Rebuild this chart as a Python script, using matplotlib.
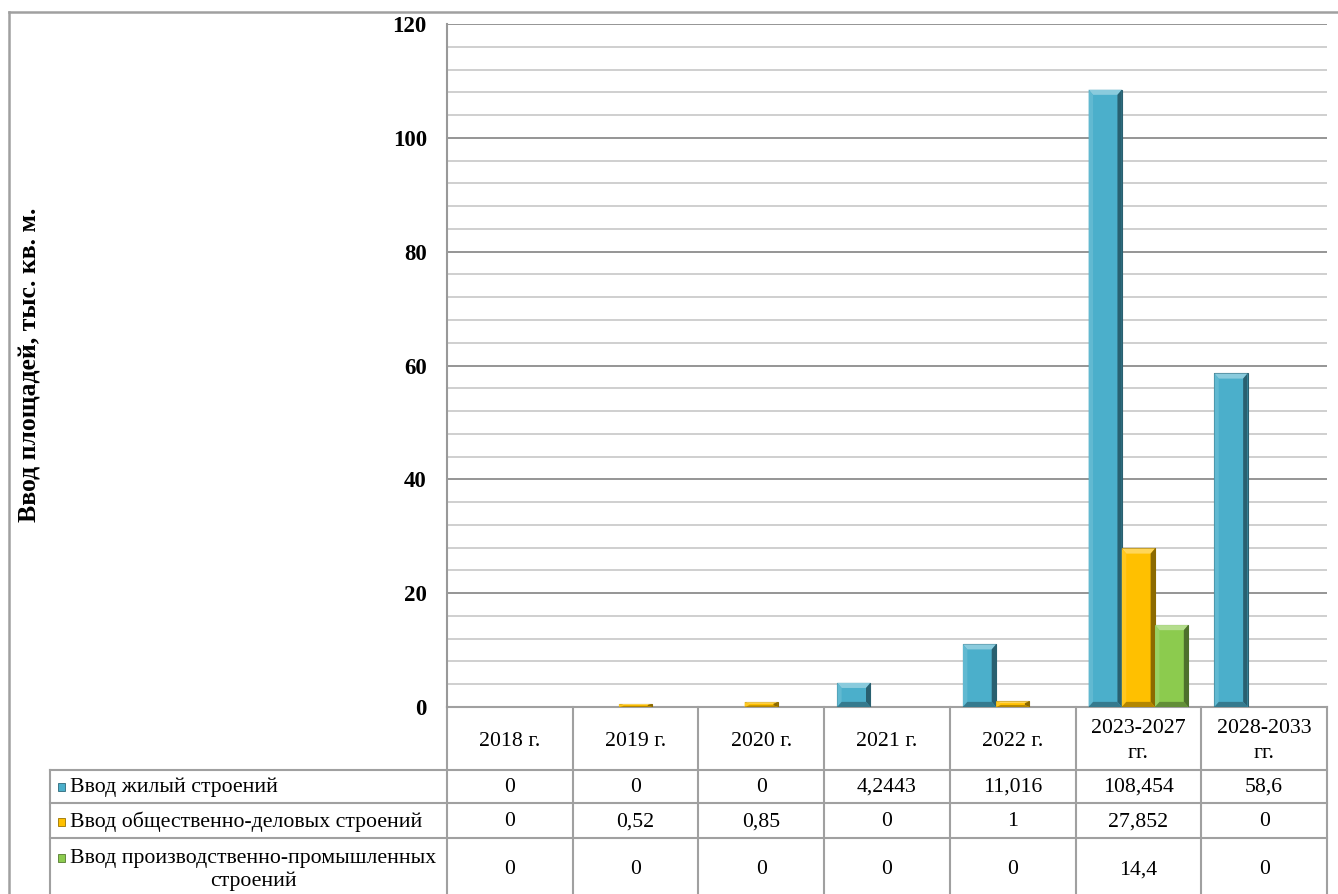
import numpy as np
import matplotlib
matplotlib.use('Agg')
import matplotlib.pyplot as plt
from matplotlib.patches import Polygon, Rectangle
from matplotlib.lines import Line2D
import matplotlib.colors as mcolors

plt.rcParams['font.family'] = ['Liberation Serif', 'DejaVu Serif']

# данные
categories = ['2018 г.', '2019 г.', '2020 г.', '2021 г.', '2022 г.', '2023-2027\nгг.', '2028-2033\nгг.']
series_names = ['Ввод жилый строений',
                'Ввод общественно-деловых строений',
                'Ввод производственно-промышленных\nстроений']
living = [0, 0, 0, 4.2443, 11.016, 108.454, 58.6]
business = [0, 0.52, 0.85, 0, 1, 27.852, 0]
industrial = [0, 0, 0, 0, 0, 14.4, 0]
table_text = [['0', '0', '0', '4,2443', '11,016', '108,454', '58,6'],
              ['0', '0,52', '0,85', '0', '1', '27,852', '0'],
              ['0', '0', '0', '0', '0', '14,4', '0']]
colors = ['#4BAFCB', '#FFC000', '#8CCB4E']

W, H = 1338, 894
fig = plt.figure(figsize=(W / 100, H / 100), dpi=100)
ax = fig.add_axes([447 / W, 1 - 707 / H, 880 / W, 683 / H])

n = len(categories)
x = np.arange(n)
bw = 0.264
fs = 15.7


def shade(c, f):
    r, g, b = mcolors.to_rgb(c)
    if f < 1:
        return (r * f, g * f, b * f)
    f = f - 1
    return (r + (1 - r) * f, g + (1 - g) * f, b + (1 - b) * f)


# псевдо-объёмный столбик (фаска как в Excel)
def bevel_bar(ax, xc, h, w, color):
    if h <= 0:
        return
    x0, x1 = xc - w / 2, xc + w / 2
    ax.add_patch(Rectangle((x0, 0), w, h, facecolor=color, edgecolor=shade(color, 0.55), lw=0.8, zorder=3))
    bx = min(0.035, w / 4)
    by = min(0.9, h / 3)
    top = [(x0, h), (x1, h), (x1 - bx, h - by), (x0 + bx, h - by)]
    bot = [(x0, 0), (x1, 0), (x1 - bx, by), (x0 + bx, by)]
    left = [(x0, 0), (x0, h), (x0 + bx, h - by), (x0 + bx, by)]
    right = [(x1, 0), (x1, h), (x1 - bx, h - by), (x1 - bx, by)]
    ax.add_patch(Polygon(top, facecolor=shade(color, 1.35), lw=0, zorder=4))
    ax.add_patch(Polygon(left, facecolor=shade(color, 1.12), lw=0, zorder=4))
    ax.add_patch(Polygon(right, facecolor=shade(color, 0.55), lw=0, zorder=4))
    ax.add_patch(Polygon(bot, facecolor=shade(color, 0.7), lw=0, zorder=4))


for i, vals in enumerate([living, business, industrial]):
    for j, v in enumerate(vals):
        bevel_bar(ax, x[j] + (i - 1) * bw, v, bw, colors[i])

ax.set_xlim(-0.5, n - 0.5)
ax.set_ylim(0, 120)
ax.set_yticks(np.arange(0, 121, 20))
ax.set_yticks(np.arange(0, 121, 4), minor=True)
ax.grid(which='major', axis='y', color='#8c8c8c', lw=1.3, zorder=0)
ax.grid(which='minor', axis='y', color='#cccccc', lw=1.3, zorder=0)
ax.set_xticks([])
ax.tick_params(axis='y', which='both', length=0, pad=14.5, labelsize=16.5)
for lab in ax.get_yticklabels():
    lab.set_fontweight('bold')
for s in ['top', 'right', 'bottom']:
    ax.spines[s].set_visible(False)
ax.spines['left'].set_color('#999999')
ax.spines['left'].set_linewidth(1.5)

ax.set_ylabel('Ввод площадей, тыс. кв. м.', fontsize=18.5, fontweight='bold', labelpad=0)
ax.yaxis.set_label_coords((42 - 447) / 880, (707 - 365) / 683)

# таблица данных под графиком
px_per_cat = 880 / n
tr = ax.get_xaxis_transform()


def ya(py):
    return (707 - py) / 683


def xd(px):
    return (px - 447) / px_per_cat - 0.5


lc = '#a0a0a0'
row_y = [707, 770, 803, 838, 894]
ax.add_line(Line2D([-0.5, n - 0.5], [0, 0], transform=tr, color=lc, lw=1.5, clip_on=False))
for k in range(n + 1):
    ax.add_line(Line2D([k - 0.5, k - 0.5], [0, ya(894)], transform=tr, color=lc, lw=1.5, clip_on=False))
for py in row_y[1:4]:
    ax.add_line(Line2D([xd(50), n - 0.5], [ya(py), ya(py)], transform=tr, color=lc, lw=1.5, clip_on=False))
ax.add_line(Line2D([xd(50), xd(50)], [ya(770), ya(894)], transform=tr, color=lc, lw=1.5, clip_on=False))

for j, c in enumerate(categories):
    ax.text(x[j], ya(741), c, transform=tr, ha='center', va='center', fontsize=fs,
            linespacing=1.45, clip_on=False)
row_centers = [787, 822, 870]
for i in range(3):
    for j in range(n):
        ax.text(x[j], ya(row_centers[i]), table_text[i][j], transform=tr, ha='center', va='center',
                fontsize=fs, clip_on=False)
    ax.text(xd(70), ya(row_centers[i]), series_names[i], transform=tr, ha='left',
            va='center', multialignment='center', fontsize=fs, linespacing=1.3, clip_on=False)
    mk_y = ya(row_centers[i]) if i < 2 else ya(858)
    ax.add_patch(Rectangle((xd(58), mk_y - 4 / 683), 7 / px_per_cat, 8 / 683, transform=tr,
                           facecolor=colors[i], edgecolor=shade(colors[i], 0.6), lw=0.6, clip_on=False))

# рамка области диаграммы
fig.add_artist(Line2D([9 / W, 1], [1 - 12 / H, 1 - 12 / H], color='#a0a0a0', lw=1.8, transform=fig.transFigure))
fig.add_artist(Line2D([9 / W, 9 / W], [0, 1 - 12 / H], color='#a0a0a0', lw=1.8, transform=fig.transFigure))

fig.savefig('out.png', dpi=100)
